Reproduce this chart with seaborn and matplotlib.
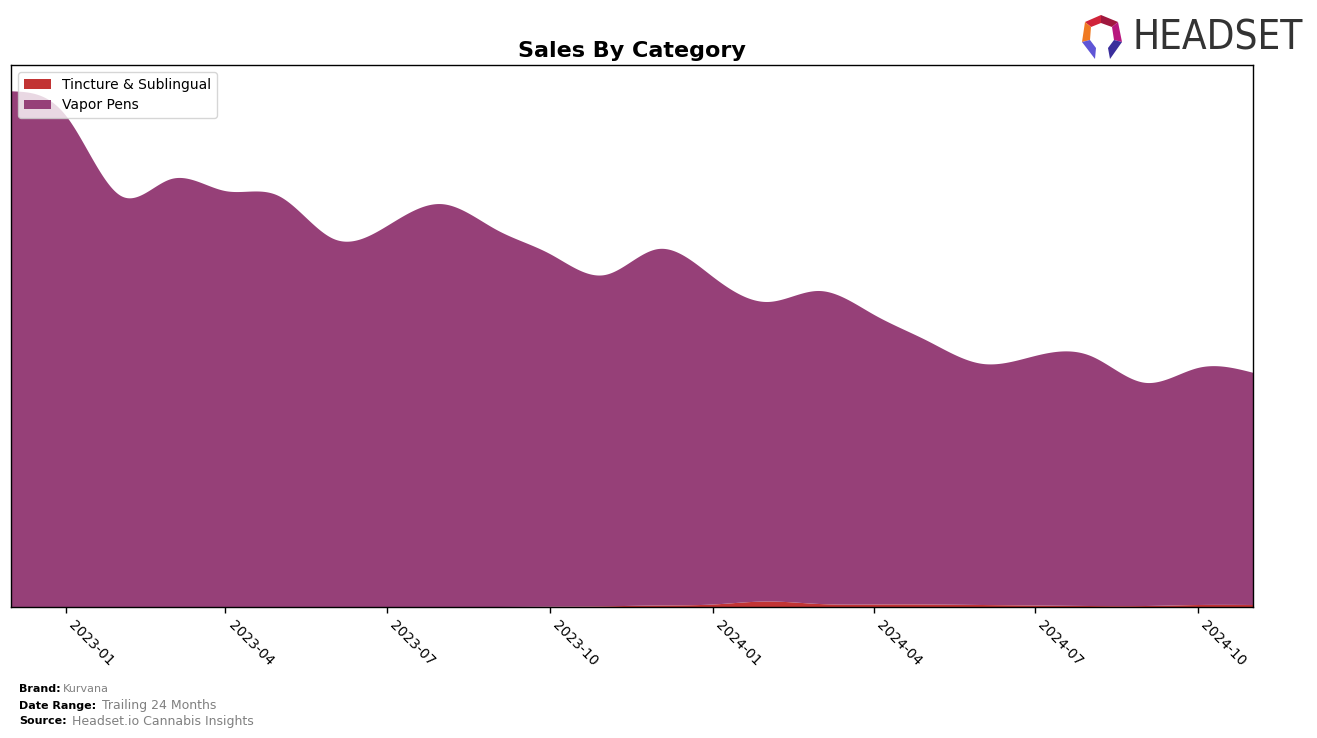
import numpy as np
import pandas as pd
import matplotlib
matplotlib.use("Agg")
import matplotlib.pyplot as plt
import matplotlib.dates as mdates
from matplotlib.patches import Polygon
import seaborn as sns

# ---------------- data ----------------
months = pd.date_range("2022-12-01", periods=24, freq="MS")
categories = ["Tincture & Sublingual", "Vapor Pens"]
tincture = [0.5, 0.5, 0.5, 0.5, 0.5, 0.5, 0.5, 0.5, 0.5, 0.5, 0.8, 1.2,
            2.0, 3.0, 6.0, 3.5, 3.0, 3.0, 2.5, 2.0, 1.5, 1.5, 2.5, 2.5]
vapor = [516.5, 491.5, 411.5, 428.5, 416.5, 411.5, 368.5, 381.5, 403.5, 377.5,
         353.2, 331.8, 357.0, 328.0, 300.0, 313.5, 290.0, 264.0, 241.5, 250.0,
         250.5, 223.5, 237.5, 232.5]
colors = ["#C23434", "#964078"]

sns.set_style("ticks")
plt.rcParams["font.family"] = ["DejaVu Sans"]
plt.rcParams["axes.edgecolor"] = "black"
plt.rcParams["xtick.color"] = "black"
plt.rcParams["text.color"] = "black"
plt.rcParams["axes.labelcolor"] = "black"


def natural_spline(x, y, xs):
    x = np.asarray(x, float)
    y = np.asarray(y, float)
    n = len(x)
    h = np.diff(x)
    A = np.zeros((n, n))
    b = np.zeros(n)
    A[0, 0] = 1
    A[-1, -1] = 1
    for i in range(1, n - 1):
        A[i, i - 1] = h[i - 1]
        A[i, i] = 2 * (h[i - 1] + h[i])
        A[i, i + 1] = h[i]
        b[i] = 6 * ((y[i + 1] - y[i]) / h[i] - (y[i] - y[i - 1]) / h[i - 1])
    M = np.linalg.solve(A, b)
    idx = np.clip(np.searchsorted(x, xs) - 1, 0, n - 2)
    x0, x1 = x[idx], x[idx + 1]
    hh = x1 - x0
    t0 = x1 - xs
    t1 = xs - x0
    return (M[idx] * t0 ** 3 / (6 * hh) + M[idx + 1] * t1 ** 3 / (6 * hh)
            + (y[idx] / hh - M[idx] * hh / 6) * t0
            + (y[idx + 1] / hh - M[idx + 1] * hh / 6) * t1)


xnum = mdates.date2num(months)
xs = np.linspace(xnum[0], xnum[-1], 1500)
t_s = np.clip(natural_spline(xnum, tincture, xs), 0.3, None)
v_s = np.clip(natural_spline(xnum, vapor, xs), 0, None)
top1 = t_s
top2 = t_s + v_s

fig = plt.figure(figsize=(13.17, 7.38), dpi=100)
ax = fig.add_axes([11 / 1317, 1 - 607 / 738, 1242 / 1317, 542 / 738])

xd = mdates.num2date(xs)
df = pd.DataFrame({"date": xd, "t": top1, "v": top2})
sns.lineplot(data=df, x="date", y="t", ax=ax, color=colors[0], linewidth=0)
sns.lineplot(data=df, x="date", y="v", ax=ax, color=colors[1], linewidth=0)
ax.fill_between(xd, 0, top1, color=colors[0], linewidth=0, label=categories[0])
ax.fill_between(xd, top1, top2, color=colors[1], linewidth=0, label=categories[1])

total = np.array(tincture) + np.array(vapor)
ax.set_ylim(0, total.max() * 1.05)
ax.set_xlim(xnum[0], xnum[-1])
ax.set_yticks([])
ax.set_xlabel("")
ax.set_ylabel("")
ax.xaxis.set_major_locator(mdates.MonthLocator(bymonth=[1, 4, 7, 10]))
ax.xaxis.set_major_formatter(mdates.DateFormatter("%Y-%m"))
for lab in ax.get_xticklabels():
    lab.set_rotation(-45)
    lab.set_ha("left")
    lab.set_va("top")
    lab.set_fontsize(10)
    lab.set_color("black")
ax.tick_params(axis="x", length=4, width=1, pad=4, colors="black")
for s in ax.spines.values():
    s.set_visible(True)
    s.set_color("black")
    s.set_linewidth(1)

ax.set_title("Sales By Category", fontsize=16, fontweight="bold", pad=6, color="black")
leg = ax.legend(loc="upper left", fontsize=10, frameon=True, borderaxespad=0.5)
for t in leg.get_texts():
    t.set_color("black")

# footer
fig.text(19 / 1317, 1 - 689 / 738, "Brand:", fontsize=8, fontweight="bold", va="center")
fig.text(63 / 1317, 1 - 689 / 738, "Kurvana", fontsize=8, color="gray", va="center")
fig.text(19 / 1317, 1 - 706 / 738, "Date Range:", fontsize=8, fontweight="bold", va="center")
fig.text(102 / 1317, 1 - 706 / 738, "Trailing 24 Months", fontsize=9, color="gray", va="center")
fig.text(19 / 1317, 1 - 721 / 738, "Source:", fontsize=8, fontweight="bold", va="center")
fig.text(72 / 1317, 1 - 721 / 738, "Headset.io Cannabis Insights", fontsize=9, color="gray", va="center")

# logo
lax = fig.add_axes([1078 / 1317, 1 - 62 / 738, 50 / 1317, 50 / 738])
lax.set_xlim(0, 50)
lax.set_ylim(50, 0)
lax.axis("off")
pieces = [
    ([(7, 10), (23, 3), (23, 11), (13, 15)], "#D0243A"),
    ([(23, 3), (40, 10), (34, 15), (23, 11)], "#A0183E"),
    ([(7, 10), (4, 30), (12, 28), (13, 15)], "#F07A22"),
    ([(40, 10), (44, 30), (36, 28), (34, 15)], "#B8177E"),
    ([(4, 30), (17, 47), (18, 36), (12, 28)], "#5F55D6"),
    ([(44, 30), (32, 47), (30, 36), (36, 28)], "#3A2E9C"),
]
for pts, c in pieces:
    lax.add_patch(Polygon(pts, closed=True, facecolor=c, edgecolor="none"))
fig.text(1133 / 1317, 1 - 39 / 738, "HEADSET", fontsize=29, color="#333333",
         va="center", ha="left", fontstretch="condensed",
         family=["DejaVu Sans"])

fig.savefig("out.png", dpi=100)
